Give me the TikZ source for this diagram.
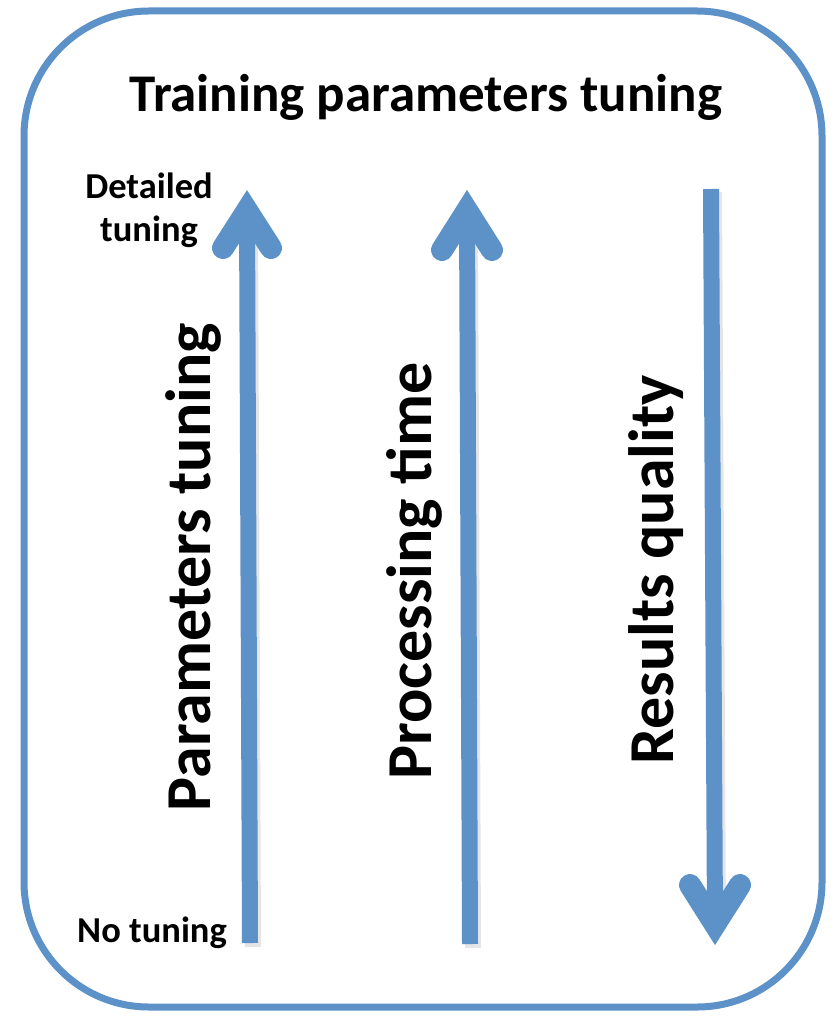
\documentclass[tikz,border=0pt]{standalone}
\usepackage{fontspec}
\setmainfont{Carlito}
\definecolor{arrowblue}{RGB}{93,146,201}
\tikzset{
  frame/.style={draw=arrowblue, line width=7pt, rounded corners=125pt},
  shaft/.style={draw=arrowblue, line width=16pt},
  head/.style={draw=arrowblue, line width=22pt, line cap=round, line join=miter},
  shade/.style={draw=black, opacity=0.10},
  smalllbl/.style={font=\bfseries\fontsize{36.5}{43}\selectfont, align=center, inner sep=0pt},
  axislbl/.style={font=\bfseries\fontsize{64}{70}\selectfont, rotate=90, inner sep=0pt, anchor=base},
  titlelbl/.style={font=\bfseries\fontsize{53}{60}\selectfont, inner sep=0pt, anchor=base},
}
\begin{document}
\begin{tikzpicture}[x=1pt,y=-1pt]
\useasboundingbox (0,0) rectangle (836,1016);

% outer frame
\draw[frame] (24,11) rectangle (822,1007);

% title
\node[titlelbl] (title) at (426,112) {Training parameters tuning};

% arrow end points
\coordinate (p0) at (250,943);  \coordinate (p1) at (247,190);
\coordinate (t0) at (470,944);  \coordinate (t1) at (467,190);
\coordinate (q0) at (711,189);  \coordinate (q1) at (715,945);

% faint shadows under the arrows
\draw[shaft, shade] ([shift={(3,4)}]p0) -- ([shift={(3,24)}]p1);
\draw[shaft, shade] ([shift={(3,4)}]t0) -- ([shift={(3,24)}]t1);
\draw[shaft, shade] ([shift={(3,3)}]q0) -- ([shift={(3,-18)}]q1);

% parameters tuning arrow (upwards)
\draw[shaft] (p0) -- ([shift={(0,21)}]p1);
\draw[head] ([shift={(-24,58)}]p1) -- ([shift={(0,20.5)}]p1) -- ([shift={(24,58)}]p1);

% processing time arrow (upwards)
\draw[shaft] (t0) -- ([shift={(0,21)}]t1);
\draw[head] ([shift={(-25,60)}]t1) -- ([shift={(0,20.5)}]t1) -- ([shift={(25,60)}]t1);

% results quality arrow (downwards)
\draw[shaft] (q0) -- ([shift={(0,-21)}]q1);
\draw[head] ([shift={(-25,-60)}]q1) -- ([shift={(0,-20.5)}]q1) -- ([shift={(25,-60)}]q1);

% end labels of the tuning axis
\node[smalllbl] (detailed) at (149,210) {Detailed\\tuning};
\node[smalllbl, anchor=base] (none) at (152,942) {No tuning};

% axis labels
\node[axislbl] (ptlbl) at (210,567) {Parameters tuning};
\node[axislbl] (timelbl) at (431,571) {Processing time};
\node[axislbl] (qlbl) at (673,570) {Results quality};
\end{tikzpicture}
\end{document}
